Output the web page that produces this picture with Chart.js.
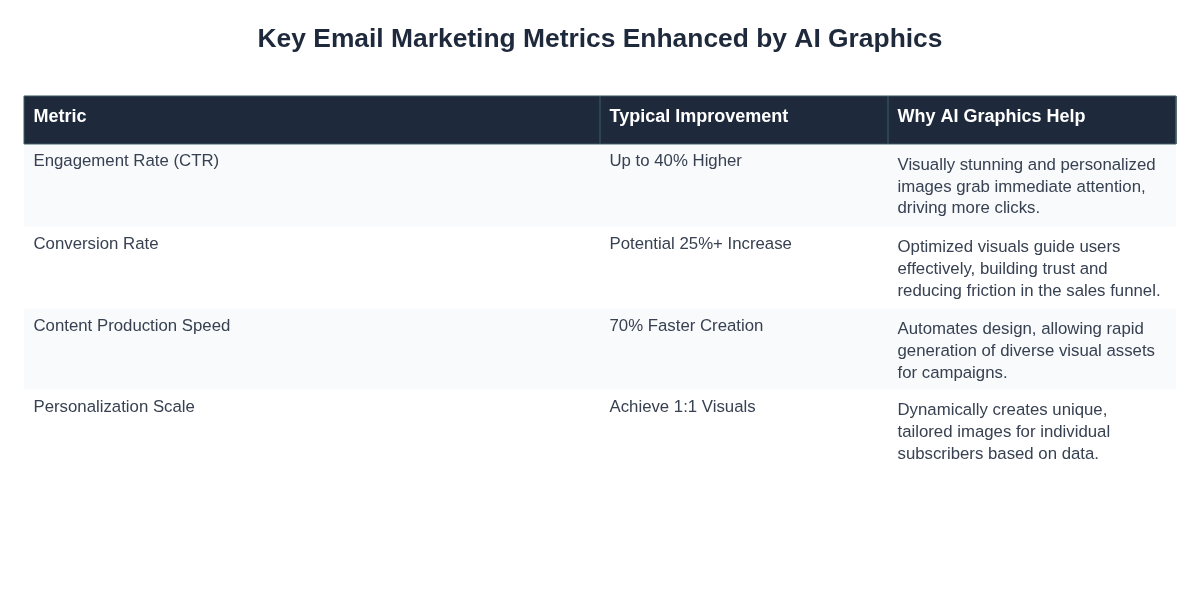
<!DOCTYPE html>
<html><head><meta charset="utf-8">
<style>html,body{margin:0;padding:0;background:#fff}canvas{display:block}</style>
<script src="https://cdn.jsdelivr.net/npm/chart.js@4"></script></head>
<body><canvas id="c" width="1200" height="600"></canvas>
<script>
const chartTitle = "Key Email Marketing Metrics Enhanced by AI Graphics";
const headers = ["Metric", "Typical Improvement", "Why AI Graphics Help"];
const metrics = ["Engagement Rate (CTR)", "Conversion Rate", "Content Production Speed", "Personalization Scale"];
const improvements = ["Up to 40% Higher", "Potential 25%+ Increase", "70% Faster Creation", "Achieve 1:1 Visuals"];
const reasons = [
  ["Visually stunning and personalized", "images grab immediate attention,", "driving more clicks."],
  ["Optimized visuals guide users", "effectively, building trust and", "reducing friction in the sales funnel."],
  ["Automates design, allowing rapid", "generation of diverse visual assets", "for campaigns."],
  ["Dynamically creates unique,", "tailored images for individual", "subscribers based on data."]
];
const columnShares = [2, 1, 1];
const rowHeights = [48, 82.5, 82, 81, 82];
const stripeFlags = [true, false, true, false];

const colEdges = columnShares.reduce((a, v) => (a.push(a[a.length - 1] + v), a), [0]);
const rowEdges = rowHeights.reduce((a, v) => (a.push(a[a.length - 1] + v), a), [0]);
const xMax = colEdges[colEdges.length - 1], yMax = rowEdges[rowEdges.length - 1];
const band = (top, color) => ({
  type: 'line', data: [{x: 0, y: top}, {x: xMax, y: top}], borderWidth: 0, pointRadius: 0,
  backgroundColor: color, borderColor: color
});
const datasets = [];
datasets.push({
  type: 'line', clip: false, fill: false, pointRadius: 0, borderWidth: 1, borderColor: '#3f5c63',
  data: [{x: 0, y: 0}, {x: xMax, y: 0}, {x: xMax, y: rowEdges[1]}, {x: 0, y: rowEdges[1]}, {x: 0, y: 0}]
});
colEdges.slice(1, -1).forEach(e => datasets.push({
  type: 'line', data: [{x: e, y: rowEdges[0]}, {x: e, y: rowEdges[1]}], borderWidth: 1,
  borderColor: '#2f4a56', pointRadius: 0, fill: false
}));
datasets.push(Object.assign(band(rowEdges[0], '#1e293b'), {fill: {value: rowEdges[1]}}));
stripeFlags.forEach((s, i) => {
  if (s) datasets.push(Object.assign(band(rowEdges[i + 1], '#f8fafc'), {fill: {value: rowEdges[i + 2]}}));
});

const tableText = {
  id: 'tableText',
  afterDatasetsDraw(chart) {
    const {ctx, scales: {x, y}} = chart;
    ctx.save();
    ctx.textBaseline = 'middle';
    ctx.textAlign = 'left';
    const padX = 9.5;
    ctx.font = 'bold 18px "Liberation Sans", Arial, sans-serif';
    ctx.fillStyle = '#ffffff';
    headers.forEach((h, c) => ctx.fillText(h, x.getPixelForValue(colEdges[c]) + padX, y.getPixelForValue(rowEdges[0]) + 21));
    ctx.font = '16.8px "Liberation Sans", Arial, sans-serif';
    ctx.fillStyle = '#374151';
    metrics.forEach((m, r) => {
      const top = y.getPixelForValue(rowEdges[r + 1]);
      ctx.fillText(m, x.getPixelForValue(colEdges[0]) + padX, top + 17.8);
      ctx.fillText(improvements[r], x.getPixelForValue(colEdges[1]) + padX, top + 17.8);
      reasons[r].forEach((l, i) => ctx.fillText(l, x.getPixelForValue(colEdges[2]) + padX, top + 21.3 + i * 21.7));
    });
    ctx.restore();
  }
};

new Chart(document.getElementById('c'), {
  type: 'line',
  data: {datasets},
  plugins: [tableText],
  options: {
    responsive: false, animation: false, devicePixelRatio: 1,
    events: [],
    layout: {padding: {left: 24, right: 24, top: 0, bottom: 128.5}},
    scales: {
      x: {type: 'linear', display: false, min: 0, max: xMax},
      y: {type: 'linear', display: false, min: 0, max: yMax, reverse: true}
    },
    plugins: {
      legend: {display: false}, tooltip: {enabled: false},
      title: {
        display: true, text: chartTitle, color: '#1e293b',
        font: {family: '"Liberation Sans", Arial, sans-serif', size: 26.4, weight: 'bold'},
        padding: {top: 24, bottom: 40.3}
      }
    }
  }
});
</script></body></html>
